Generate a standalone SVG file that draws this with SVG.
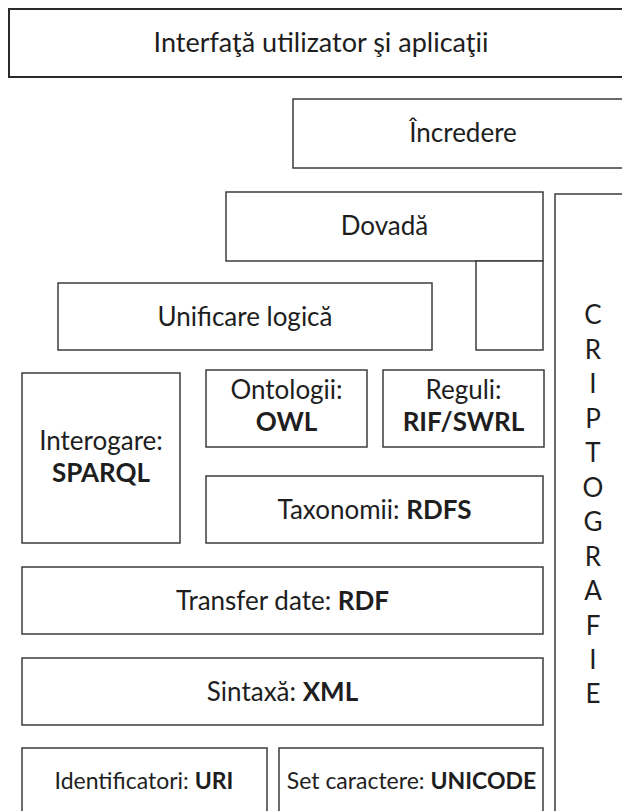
<svg xmlns="http://www.w3.org/2000/svg" width="622" height="811" viewBox="0 0 622 811">
  <style>
    .box { fill: #ffffff; stroke: #3c3c3c; stroke-width: 1.5; }
    .box-top { fill: #ffffff; stroke: #2a2a2a; stroke-width: 2; }
    .lbl { font-family: Lato, "Open Sans", "Liberation Sans", sans-serif; font-size: 26px; fill: #1e1e1e; text-anchor: middle; }
    .lbl-lg { font-size: 27px; }
    .lbl-sm { font-size: 23px; }
    .b { font-weight: bold; }
  </style>
  <rect width="622" height="811" fill="#ffffff"/>

  <!-- Semantic Web layer stack -->
  <g id="interfata">
    <rect class="box-top" x="9" y="9" width="625" height="68"/>
    <text class="lbl lbl-lg" x="321" y="52">Interfaţă utilizator şi aplicaţii</text>
  </g>

  <g id="incredere">
    <rect class="box" x="293" y="99" width="340" height="69"/>
    <text class="lbl" x="463" y="142">Încredere</text>
  </g>

  <g id="dovada">
    <rect class="box" x="226" y="192" width="317" height="69"/>
    <rect class="box" x="476" y="261" width="67" height="89"/>
    <text class="lbl" x="384.5" y="235">Dovadă</text>
  </g>

  <g id="criptografie">
    <rect class="box" x="555" y="194" width="80" height="640"/>
    <g class="lbl">
      <text x="593" y="324">C</text>
      <text x="593" y="358.5">R</text>
      <text x="593" y="393">I</text>
      <text x="593" y="427.5">P</text>
      <text x="593" y="462">T</text>
      <text x="593" y="496.5">O</text>
      <text x="593" y="531">G</text>
      <text x="593" y="565.5">R</text>
      <text x="593" y="600">A</text>
      <text x="593" y="634.5">F</text>
      <text x="593" y="669">I</text>
      <text x="593" y="703">E</text>
    </g>
  </g>

  <g id="unificare">
    <rect class="box" x="58" y="283" width="374" height="67"/>
    <text class="lbl" x="245" y="326">Unificare logică</text>
  </g>

  <g id="interogare">
    <rect class="box" x="22" y="373" width="158" height="170"/>
    <text class="lbl" x="101" y="450">Interogare:</text>
    <text class="lbl b" x="101" y="482">SPARQL</text>
  </g>

  <g id="ontologii">
    <rect class="box" x="206" y="370" width="161" height="77"/>
    <text class="lbl" x="286.5" y="399">Ontologii:</text>
    <text class="lbl b" x="286.5" y="431">OWL</text>
  </g>

  <g id="reguli">
    <rect class="box" x="383" y="370" width="161" height="77"/>
    <text class="lbl" x="463.5" y="399">Reguli:</text>
    <text class="lbl b" x="463.5" y="431">RIF/SWRL</text>
  </g>

  <g id="taxonomii">
    <rect class="box" x="206" y="476" width="337" height="67"/>
    <text class="lbl" x="374.5" y="518.5">Taxonomii: <tspan class="b">RDFS</tspan></text>
  </g>

  <g id="transfer">
    <rect class="box" x="22" y="567" width="521" height="67"/>
    <text class="lbl" x="282.5" y="609.5">Transfer date: <tspan class="b">RDF</tspan></text>
  </g>

  <g id="sintaxa">
    <rect class="box" x="22" y="658" width="521" height="67"/>
    <text class="lbl" x="282.5" y="700.5">Sintaxă: <tspan class="b">XML</tspan></text>
  </g>

  <g id="identificatori">
    <rect class="box" x="22" y="748" width="245" height="80"/>
    <text class="lbl lbl-sm" x="144" y="789">Identificatori: <tspan class="b">URI</tspan></text>
  </g>

  <g id="set-caractere">
    <rect class="box" x="279" y="748" width="264" height="80"/>
    <text class="lbl lbl-sm" x="411.5" y="789">Set caractere: <tspan class="b">UNICODE</tspan></text>
  </g>
</svg>
